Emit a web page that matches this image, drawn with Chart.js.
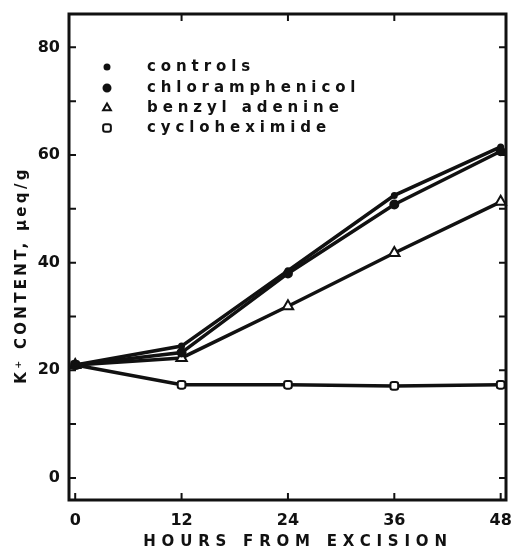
<!DOCTYPE html>
<html>
<head>
<meta charset="utf-8">
<script src="https://cdn.jsdelivr.net/npm/chart.js@4/dist/chart.umd.min.js"></script>
<style>
  html, body { margin: 0; padding: 0; background: #fff; }
  #wrap { width: 514px; height: 550px; }
</style>
</head>
<body>
<div id="wrap"><canvas id="chart"></canvas></div>
<script>
/* data */
const hours = [0, 12, 24, 36, 48];
const controls = [21, 24.5, 38.5, 52.5, 61.5];
const chloramphenicol = [21, 23.3, 38, 50.8, 60.7];
const benzylAdenine = [21, 22.3, 31.9, 41.8, 51.3];
const cycloheximide = [21, 17.3, 17.3, 17.1, 17.3];

const xTicks = [0, 12, 24, 36, 48];
const yTicks = [0, 20, 40, 60, 80];
const yMinor = [10, 30, 50, 70];
const xTop = [12, 24, 36];

const FONT = "DejaVu Sans, sans-serif";
const INK = "#111";

function series(label, data, style, radius, fill) {
  return {
    label,
    data: hours.map((h, i) => ({ x: h, y: data[i] })),
    borderColor: INK,
    borderWidth: 3.5,
    pointStyle: style,
    pointRadius: radius,
    pointBorderWidth: 2,
    pointBorderColor: INK,
    pointBackgroundColor: fill,
    tension: 0,
    clip: false
  };
}

/* =========================
   FRAME, INWARD TICKS, TITLES, LEGEND
========================= */
const framePlugin = {
  id: "frame",
  afterDraw(chart) {
    const { ctx, chartArea: a, scales } = chart;
    const x = scales.x, y = scales.y;
    ctx.save();
    ctx.strokeStyle = INK;
    ctx.lineWidth = 3;
    ctx.strokeRect(a.left, a.top, a.right - a.left, a.bottom - a.top);

    ctx.lineWidth = 2;
    ctx.beginPath();
    [...yTicks, ...yMinor].forEach(v => {
      const py = y.getPixelForValue(v);
      ctx.moveTo(a.left, py); ctx.lineTo(a.left + 7, py);
      ctx.moveTo(a.right, py); ctx.lineTo(a.right - 7, py);
    });
    xTicks.forEach(v => {
      const px = x.getPixelForValue(v);
      ctx.moveTo(px, a.bottom); ctx.lineTo(px, a.bottom - 7);
    });
    xTop.forEach(v => {
      const px = x.getPixelForValue(v);
      ctx.moveTo(px, a.top); ctx.lineTo(px, a.top + 7);
    });
    ctx.stroke();

    // axis titles
    ctx.fillStyle = INK;
    ctx.font = "bold 15px " + FONT;
    ctx.textAlign = "center";
    ctx.textBaseline = "middle";
    ctx.letterSpacing = "5.8px";
    ctx.fillText("HOURS FROM EXCISION", 298, 542);

    ctx.save();
    ctx.translate(22, 275);
    ctx.rotate(-Math.PI / 2);
    ctx.letterSpacing = "3.3px";
    ctx.fillText("K\u207A CONTENT, \u03BCeq/g", 0, 0);
    ctx.restore();

    // legend
    ctx.textAlign = "left";
    ctx.letterSpacing = "4.9px";
    const rowsY = [67, 88, 108, 128];
    chart.data.datasets.forEach((ds, i) => {
      const ry = rowsY[i];
      const r = i === 0 ? 2.5 : i === 1 ? 3.5 : 4.5;
      ctx.lineWidth = 2;
      ctx.strokeStyle = INK;
      ctx.fillStyle = ds.pointBackgroundColor;
      Chart.helpers.drawPoint(ctx, { pointStyle: ds.pointStyle, radius: r, borderWidth: 2 }, 107, ry);
      ctx.fillStyle = INK;
      ctx.fillText(ds.label, 147, ry);
    });
    ctx.restore();
  }
};

new Chart(document.getElementById("chart"), {
  type: "line",
  data: {
    datasets: [
      series("controls", controls, "circle", 2.5, INK),
      series("chloramphenicol", chloramphenicol, "circle", 4, INK),
      series("benzyl adenine", benzylAdenine, "triangle", 6, "#fff"),
      series("cycloheximide", cycloheximide, "rectRounded", 4.5, "#fff")
    ]
  },
  options: {
    responsive: true,
    maintainAspectRatio: false,
    animation: false,
    layout: { padding: { top: 14, right: 6, left: 0, bottom: 0 } },
    plugins: { legend: { display: false }, tooltip: { enabled: false } },
    scales: {
      x: {
        type: "linear",
        min: -0.7,
        max: 48.6,
        afterBuildTicks: s => { s.ticks = xTicks.map(v => ({ value: v })); },
        afterFit: s => { s.height = 50; s.paddingLeft = 0; s.paddingRight = 0; },
        grid: { display: false, drawTicks: false },
        border: { display: false },
        ticks: { color: INK, font: { family: FONT, size: 16, weight: "bold" }, padding: 11, maxRotation: 0 }
      },
      y: {
        min: -4.1,
        max: 86.2,
        afterBuildTicks: s => { s.ticks = yTicks.map(v => ({ value: v })); },
        afterFit: s => { s.width = 69; s.paddingTop = 0; s.paddingBottom = 0; },
        grid: { display: false, drawTicks: false },
        border: { display: false },
        ticks: { color: INK, font: { family: FONT, size: 16, weight: "bold" }, padding: 9 }
      }
    }
  },
  plugins: [framePlugin]
});
</script>
</body>
</html>
